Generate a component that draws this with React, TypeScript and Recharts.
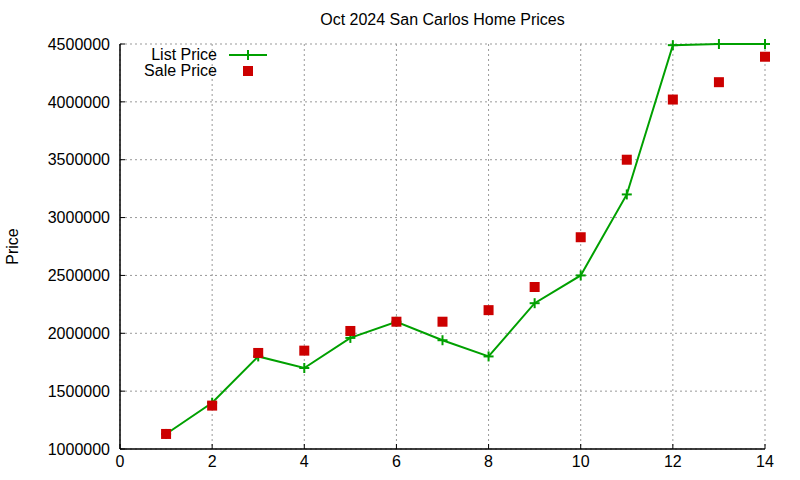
import {
  ComposedChart, Line, Scatter,
  XAxis, YAxis, CartesianGrid,
} from "recharts";

const days = [1, 2, 3, 4, 5, 6, 7, 8, 9, 10, 11, 12, 13, 14];
const listPrice = [1130000, 1400000, 1800000, 1700000, 1960000, 2100000, 1940000, 1800000, 2260000, 2500000, 3200000, 4490000, 4500000, 4500000];
const salePrice = [1130000, 1375000, 1830000, 1850000, 2020000, 2100000, 2100000, 2200000, 2400000, 2830000, 3500000, 4020000, 4170000, 4390000];
const xTicks = [0, 2, 4, 6, 8, 10, 12, 14];
const yTicks = [1000000, 1500000, 2000000, 2500000, 3000000, 3500000, 4000000, 4500000];

const GREEN = "#00a000";
const RED = "#cc0000";
const FONT = "'Liberation Sans', Arial, sans-serif";

const data = days.map((d, i) => ({ day: d, list: listPrice[i], sale: salePrice[i] }));

function PlusDot({ cx, cy }: { cx?: number; cy?: number }) {
  if (cx == null || cy == null) return null;
  return (
    <g stroke={GREEN} strokeWidth={2}>
      <line x1={cx - 5} y1={cy} x2={cx + 5} y2={cy} />
      <line x1={cx} y1={cy - 5} x2={cx} y2={cy + 5} />
    </g>
  );
}

function SquareDot({ cx, cy }: { cx?: number; cy?: number }) {
  if (cx == null || cy == null) return null;
  return <rect x={cx - 5} y={cy - 5} width={10} height={10} fill={RED} />;
}

// gnuplot-style key, top-left inside the frame
function KeyBox() {
  const row = { display: "flex", alignItems: "center", height: 16 } as const;
  const label = { width: 97, textAlign: "right", paddingRight: 12 } as const;
  return (
    <div style={{ position: "absolute", left: 120, top: 47, fontFamily: FONT, fontSize: 16, color: "#000", lineHeight: "16px" }}>
      <div style={row}>
        <span style={label}>List Price</span>
        <svg width={40} height={16}>
          <line x1={0} y1={8} x2={38} y2={8} stroke={GREEN} strokeWidth={2} />
          <line x1={19} y1={3} x2={19} y2={13} stroke={GREEN} strokeWidth={2} />
        </svg>
      </div>
      <div style={row}>
        <span style={label}>Sale Price</span>
        <svg width={40} height={16}>
          <rect x={14} y={3} width={10} height={10} fill={RED} />
        </svg>
      </div>
    </div>
  );
}

export default function App() {
  const tickStyle = { fill: "#000", fontSize: 16, fontFamily: FONT };
  return (
    <div style={{ position: "absolute", left: 0, top: 0, width: 800, height: 480, background: "#fff" }}>
      <div
        style={{
          position: "absolute", left: 120, width: 645, top: 11, textAlign: "center",
          fontFamily: FONT, fontSize: 16, color: "#000",
        }}
      >
        Oct 2024 San Carlos Home Prices
      </div>
      <ComposedChart width={800} height={480} data={data} margin={{ top: 44, right: 35, bottom: 0, left: 0 }}>
        <CartesianGrid stroke="#999" strokeDasharray="2 3" />
        <XAxis
          dataKey="day" type="number" domain={[0, 14]} ticks={xTicks}
          tick={tickStyle} tickSize={-5} tickMargin={12} height={31}
          axisLine={{ stroke: "#000", strokeWidth: 1.5 }} tickLine={{ stroke: "#000" }}
        />
        <XAxis
          xAxisId="top" orientation="top" dataKey="day" type="number" domain={[0, 14]} ticks={xTicks}
          tickFormatter={() => ""} tickSize={-5} height={0}
          axisLine={{ stroke: "#000", strokeWidth: 1.5 }} tickLine={{ stroke: "#000" }}
        />
        <YAxis
          type="number" domain={[1000000, 4500000]} ticks={yTicks} width={120}
          tick={tickStyle} tickSize={-5} tickMargin={15} interval={0}
          axisLine={{ stroke: "#000", strokeWidth: 1.5 }} tickLine={{ stroke: "#000" }}
          label={{ value: "Price", angle: -90, position: "insideLeft", offset: 12, style: { fill: "#000", fontSize: 16, fontFamily: FONT, textAnchor: "middle" } }}
        />
        <YAxis
          yAxisId="right" orientation="right" type="number" domain={[1000000, 4500000]} ticks={yTicks} width={0}
          tickFormatter={() => ""} tickSize={-5} interval={0}
          axisLine={{ stroke: "#000", strokeWidth: 1.5 }} tickLine={{ stroke: "#000" }}
        />
        <Line
          dataKey="list" name="List Price" type="linear" stroke={GREEN} strokeWidth={2}
          dot={<PlusDot />} activeDot={false} isAnimationActive={false}
        />
        <Scatter dataKey="sale" name="Sale Price" shape={<SquareDot />} isAnimationActive={false} />
      </ComposedChart>
      <KeyBox />
    </div>
  );
}
